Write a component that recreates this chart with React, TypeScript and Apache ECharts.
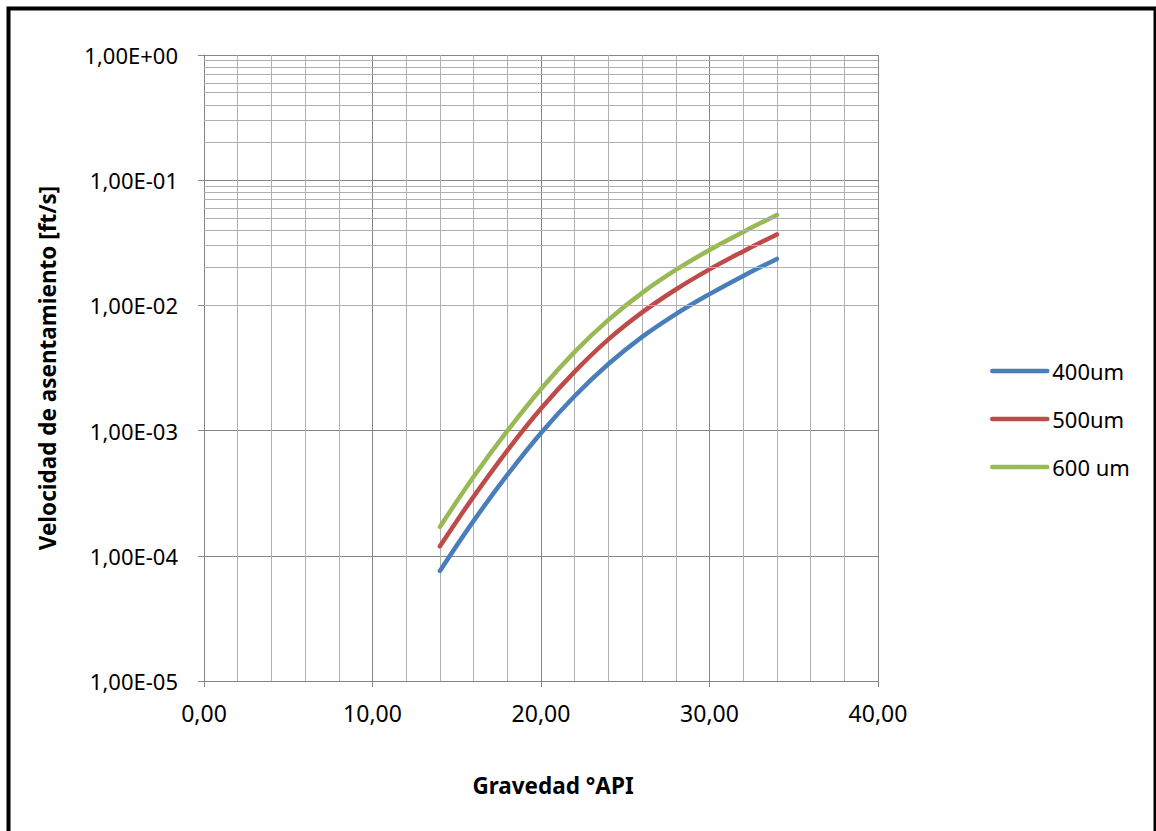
import React, { useEffect, useRef } from "react";
import * as echarts from "echarts";

// Gravedad °API (x) for each sample
const apiGravity = [14, 16, 18, 20, 22, 24, 26, 28, 30, 32, 34];

// Velocidad de asentamiento [ft/s] per droplet size
const v400 = [7.57e-5, 1.9e-4, 4.42e-4, 9.57e-4, 1.89e-3, 3.4e-3, 5.6e-3, 8.53e-3, 1.23e-2, 1.72e-2, 2.35e-2];
const v500 = [1.19e-4, 2.97e-4, 6.93e-4, 1.5e-3, 2.96e-3, 5.35e-3, 8.79e-3, 1.34e-2, 1.94e-2, 2.7e-2, 3.69e-2];
const v600 = [1.7e-4, 4.28e-4, 9.93e-4, 2.15e-3, 4.25e-3, 7.66e-3, 1.26e-2, 1.92e-2, 2.77e-2, 3.86e-2, 5.28e-2];

const seriesNames = ["400um", "500um", "600 um"];
const seriesColors = ["#4a7ebb", "#be4b48", "#98b954"];

// minor gridlines of the log axis: 2..9 within each decade
const decades = [1e-5, 1e-4, 1e-3, 1e-2, 1e-1];
const minorMultipliers = [2, 3, 4, 5, 6, 7, 8, 9];

const FONT = "'Noto Sans', 'DejaVu Sans', sans-serif";
const MAJOR = "#868686";
const MINOR = "#b0b0b0";

const fmtSci = (v: number) => {
  const e = Math.round(Math.log10(v));
  const abs = Math.abs(e);
  return `1,00E${e < 0 ? "-" : "+"}${abs < 10 ? "0" + abs : abs}`;
};

export default function App() {
  const ref = useRef<HTMLDivElement>(null);

  useEffect(() => {
    if (!ref.current) return;
    const chart = echarts.init(ref.current, undefined, { renderer: "svg" });

    const minorLines: { yAxis: number }[] = [];
    decades.forEach((d) => minorMultipliers.forEach((m) => minorLines.push({ yAxis: d * m })));

    const dataSets = [v400, v500, v600];

    chart.setOption({
      animation: false,
      backgroundColor: "#ffffff",
      textStyle: { fontFamily: FONT },
      grid: { left: 204, right: 278, top: 55, bottom: 150, containLabel: false },
      legend: {
        data: seriesNames,
        orient: "vertical",
        left: 985,
        top: 355,
        itemWidth: 55,
        itemHeight: 2,
        itemGap: 26,
        lineStyle: { width: 4.5, cap: "round" },
        textStyle: { fontFamily: FONT, fontSize: 22, color: "#000" },
      },
      xAxis: {
        type: "value",
        min: 0,
        max: 40,
        interval: 10,
        name: "Gravedad °API",
        nameLocation: "middle",
        nameGap: 93,
        nameTextStyle: {
          fontFamily: FONT,
          fontSize: 22.5,
          fontWeight: "bold",
          color: "#000",
          padding: [0, 0, 0, 24],
        },
        axisLine: { show: true, lineStyle: { color: MAJOR, width: 1 } },
        axisTick: { show: true, length: 6, lineStyle: { color: MAJOR } },
        axisLabel: {
          margin: 20,
          fontFamily: FONT,
          fontSize: 23,
          color: "#000",
          formatter: (v: number) => v.toFixed(2).replace(".", ","),
        },
        splitLine: { show: true, lineStyle: { color: MAJOR, width: 1 } },
        minorTick: { show: false, splitNumber: 5 },
        minorSplitLine: { show: true, lineStyle: { color: MINOR, width: 1 } },
      },
      yAxis: {
        type: "log",
        logBase: 10,
        min: 1e-5,
        max: 1,
        splitNumber: 5,
        name: "Velocidad de asentamiento [ft/s]",
        nameLocation: "middle",
        nameGap: 145,
        nameRotate: 90,
        nameTextStyle: { fontFamily: FONT, fontSize: 22.5, fontWeight: "bold", color: "#000" },
        axisLine: { show: true, lineStyle: { color: MAJOR, width: 1 } },
        axisTick: { show: true, length: 6, lineStyle: { color: MAJOR } },
        axisLabel: { margin: 26, fontFamily: FONT, fontSize: 22, color: "#000", formatter: fmtSci },
        splitLine: { show: true, lineStyle: { color: MAJOR, width: 1 } },
      },
      series: [
        {
          name: "grid-minor",
          type: "line",
          data: [],
          z: 1,
          silent: true,
          markLine: {
            silent: true,
            symbol: ["none", "none"],
            label: { show: false },
            lineStyle: { type: "solid", color: MINOR, width: 1 },
            data: minorLines,
          },
        },
        ...seriesNames.map((name, i) => ({
          name,
          type: "line",
          smooth: 0.4,
          symbol: "none",
          z: 3,
          color: seriesColors[i],
          lineStyle: { width: 4.5, color: seriesColors[i], cap: "round", join: "round" },
          data: apiGravity.map((x, k) => [x, dataSets[i][k]]),
        })),
      ],
      graphic: [
        {
          type: "polyline",
          silent: true,
          shape: { points: [[8.5, 840], [8.5, 8.5], [1155.5, 8.5], [1155.5, 840]] },
          style: { stroke: "#000", lineWidth: 4, fill: null },
        },
      ],
    });

    return () => chart.dispose();
  }, []);

  return (
    <div
      ref={ref}
      style={{ position: "absolute", left: 0, top: 0, width: 1156, height: 831 }}
    />
  );
}
